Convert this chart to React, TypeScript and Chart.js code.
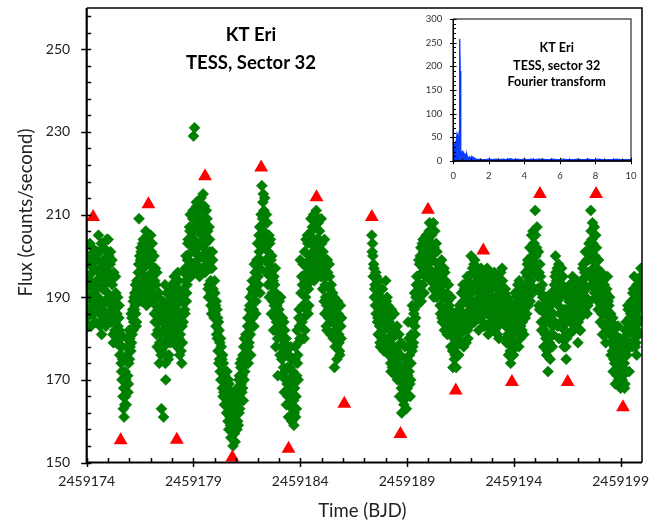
import React, { useEffect, useRef } from 'react';
import { Chart, registerables } from 'chart.js';

Chart.register(...registerables);

// ---------------- data ----------------
const JD0 = 2459000;
const X_MIN = 2459174;
const X_MAX = 2459200;
const Y_MIN = 150;
const Y_MAX = 260;

const xTickValues = [2459174, 2459179, 2459184, 2459189, 2459194, 2459199];
const yTickValues = [150, 170, 190, 210, 230, 250];

// TESS light curve, regular cadence (days); three interleaved phases per orbit
const CADENCE = 0.05;
const PHASES = [0, 0.017, 0.033];
const orbit1Start = 2459174.0;
const fluxOrbit1a = [
  185, 200, 190, 203, 183, 196, 188, 201, 184, 194,
  199, 205, 186, 197, 181, 192, 202, 189, 183, 196,
  204, 190, 198, 184, 193, 179, 187, 195, 182, 190,
  185, 176, 181, 170, 166, 161, 172, 164, 178, 169,
  175, 182, 179, 187, 184, 191, 186, 194, 189, 209,
  196, 201, 191, 204, 195, 199, 188, 203, 193, 198,
  205, 196, 189, 200, 184, 193, 178, 187, 174, 181,
  163, 186, 161, 179, 170, 191, 183, 176, 188, 180,
  192, 184, 195, 179, 188, 182, 194, 176, 186, 174,
  189, 196, 186, 200, 193, 204, 197, 210, 201, 206,
  229, 231, 207, 212, 199, 209, 203, 214, 205, 215,
  208, 196, 211, 200, 190, 204, 194, 186, 199, 189,
  191, 183, 187, 177, 182, 172, 178, 168, 174, 164,
  170, 162, 167, 158, 165, 156, 163, 154, 160, 155,
  162, 168, 159, 171, 165, 175, 168, 178, 172, 181,
  176, 185, 179, 190, 183, 194, 187, 198, 191, 196,
  203, 193, 207, 199, 217, 213, 211, 205, 196, 208,
  201, 190, 204, 186, 197, 182, 193, 178, 188, 171,
  187, 176, 183, 171, 180, 167, 177, 164, 173, 161,
  169, 178, 160, 172, 159, 175, 166, 182, 170, 187,
  199, 180, 193, 185, 201, 190, 196, 203, 188, 205,
  209, 198, 204, 194, 207, 211, 201, 196, 206, 199,
  203, 192, 198, 186, 195, 182, 190, 198, 184, 193,
  187, 180, 173, 184, 178, 189, 181, 176, 183,
];
const fluxOrbit1b = [
  192, 187, 198, 194, 189, 202, 186, 191, 199, 188,
  193, 188, 201, 184, 195, 187, 198, 193, 186, 201,
  196, 186, 201, 189, 185, 196, 182, 191, 186, 183,
  188, 180, 174, 178, 163, 168, 166, 176, 171, 174,
  180, 177, 185, 182, 190, 188, 183, 192, 196, 193,
  199, 193, 203, 197, 190, 206, 201, 195, 200, 191,
  199, 203, 193, 186, 197, 181, 190, 184, 179, 177,
  184, 189, 178, 193, 182, 187, 175, 185, 179, 191,
  186, 190, 181, 191, 185, 196, 180, 189, 177, 183,
  184, 191, 197, 189, 199, 195, 207, 203, 198, 209,
  201, 210, 196, 206, 211, 200, 208, 197, 212, 202,
  212, 203, 198, 206, 193, 201, 188, 197, 192, 185,
  186, 189, 180, 184, 175, 180, 170, 176, 167, 171,
  166, 172, 160, 169, 161, 167, 158, 164, 157, 162,
  165, 160, 170, 163, 173, 167, 176, 170, 180, 175,
  180, 174, 187, 181, 192, 185, 189, 194, 186, 199,
  198, 205, 191, 210, 202, 215, 208, 202, 210, 199,
  198, 203, 193, 200, 189, 195, 185, 191, 182, 186,
  189, 181, 178, 185, 173, 182, 170, 178, 166, 176,
  164, 175, 163, 169, 162, 178, 163, 174, 179, 183,
  185, 195, 188, 198, 182, 204, 193, 186, 199, 195,
  203, 207, 200, 210, 197, 204, 208, 199, 203, 195,
  197, 201, 189, 193, 183, 199, 187, 195, 181, 190,
  191, 185, 182, 188, 175, 186, 179, 185, 180,
];
const fluxOrbit1c = [
  195, 183, 193, 199, 186, 190, 197, 184, 192, 201,
  190, 196, 183, 203, 189, 199, 185, 194, 204, 191,
  200, 194, 188, 199, 181, 190, 184, 179, 188, 185,
  182, 178, 172, 175, 168, 164, 170, 180, 167, 182,
  178, 186, 181, 189, 187, 193, 184, 190, 198, 200,
  202, 189, 197, 192, 202, 194, 198, 192, 205, 189,
  201, 191, 197, 194, 188, 196, 182, 191, 185, 176,
  177, 182, 188, 174, 185, 180, 189, 186, 181, 193,
  183, 193, 187, 190, 178, 192, 184, 181, 190, 179,
  192, 187, 194, 191, 203, 199, 206, 195, 204, 211,
  204, 198, 213, 202, 207, 195, 211, 206, 200, 209,
  205, 199, 209, 192, 207, 197, 191, 201, 187, 194,
  188, 181, 185, 174, 179, 170, 175, 166, 172, 168,
  168, 164, 170, 163, 159, 166, 160, 157, 165, 158,
  158, 166, 162, 174, 169, 171, 165, 180, 174, 178,
  183, 178, 188, 176, 186, 191, 183, 196, 189, 193,
  195, 201, 197, 204, 209, 206, 214, 199, 203, 193,
  205, 195, 199, 191, 194, 188, 197, 184, 180, 190,
  183, 190, 175, 180, 184, 172, 180, 169, 178, 167,
  173, 167, 171, 165, 168, 161, 171, 176, 185, 180,
  191, 184, 198, 180, 194, 187, 205, 192, 200, 197,
  206, 201, 210, 197, 202, 196, 208, 204, 200, 209,
  200, 195, 204, 190, 188, 196, 185, 192, 188, 186,
  184, 190, 178, 180, 186, 183, 177, 188, 185,
];
const orbit2Start = 2459187.35;
const fluxOrbit2a = [
  205, 200, 197,
  193, 186, 190, 181, 187, 178, 184, 192, 182, 189,
  194, 183, 188, 176, 185, 172, 180, 175, 186, 171,
  181, 170, 176, 166, 173, 162, 168, 164, 178, 170,
  175, 184, 172, 166, 181, 188, 179, 191, 185, 195,
  190, 199, 193, 202, 196, 204, 191, 200, 205, 197,
  203, 208, 194, 205, 199, 190, 206, 196, 201, 192,
  198, 188, 195, 184, 191, 182, 194, 186, 189, 183,
  187, 178, 184, 173, 181, 176, 173, 185, 179, 188,
  182, 191, 186, 178, 193, 184, 189, 180, 195, 187,
  200, 189, 196, 184, 192, 187, 197, 182, 190, 194,
  188, 195, 183, 191, 186, 197, 181, 189, 184, 192,
  187, 193, 182, 190, 185, 195, 180, 188, 191, 197,
  189, 184, 192, 179, 186, 176, 183, 174, 188, 181,
  185, 191, 178, 187, 182, 194, 180, 189, 184, 192,
  188, 196, 186, 199, 191, 202, 194, 200, 206, 203,
  211, 198, 192, 201, 187, 195, 182, 190, 178, 186,
  180, 189, 172, 184, 175, 191, 178, 186, 193, 200,
  194, 183, 198, 186, 190, 180, 195, 178, 187, 175,
  184, 192, 181, 189, 186, 195, 182, 190, 188, 194,
  179, 188, 185, 194, 190, 198, 187, 201, 192, 196,
  199, 189, 211, 204, 203, 195, 200, 190, 197, 187,
  193, 184, 196, 181, 190, 186, 179, 192, 183, 188,
  185, 176, 182, 172, 178, 169, 180, 174, 170, 177,
  168, 175, 171, 180, 169, 184, 176, 187, 172, 182,
  189, 178, 192, 183, 186, 176, 190, 181, 194, 197,
];
const fluxOrbit2b = [
  201, 195, 190,
  188, 195, 184, 192, 183, 190, 180, 187, 177, 185,
  186, 190, 180, 184, 178, 187, 173, 182, 177, 181,
  177, 174, 181, 170, 179, 166, 172, 169, 175, 163,
  168, 178, 176, 170, 184, 178, 186, 183, 190, 188,
  195, 192, 200, 189, 203, 197, 200, 196, 202, 199,
  197, 201, 206, 199, 192, 202, 196, 203, 193, 198,
  193, 186, 199, 190, 187, 196, 184, 191, 185, 188,
  184, 190, 181, 186, 175, 183, 179, 182, 176, 184,
  188, 184, 193, 182, 189, 179, 195, 186, 183, 191,
  193, 197, 186, 199, 189, 194, 185, 191, 188, 197,
  191, 186, 194, 188, 192, 183, 193, 186, 195, 188,
  190, 185, 195, 187, 192, 183, 189, 193, 184, 194,
  186, 191, 183, 188, 181, 189, 179, 185, 178, 186,
  188, 182, 190, 184, 191, 186, 183, 192, 187, 181,
  192, 190, 195, 193, 197, 189, 199, 197, 203, 200,
  205, 202, 196, 188, 198, 191, 187, 184, 188, 181,
  184, 177, 186, 179, 188, 181, 183, 190, 184, 196,
  189, 196, 180, 192, 184, 193, 186, 182, 191, 180,
  190, 186, 193, 184, 191, 188, 192, 185, 193, 189,
  184, 191, 182, 189, 194, 186, 196, 190, 199, 188,
  203, 195, 206, 199, 197, 207, 192, 202, 193, 199,
  189, 192, 186, 194, 183, 188, 191, 184, 189, 182,
  181, 184, 177, 180, 174, 183, 172, 178, 175, 172,
  173, 170, 177, 174, 182, 179, 181, 184, 178, 186,
  185, 191, 181, 189, 179, 193, 185, 188, 191, 193,
];
const fluxOrbit2c = [
  203, 198, 192,
  196, 190, 185, 194, 179, 188, 182, 189, 186, 180,
  189, 179, 185, 182, 174, 183, 186, 178, 173, 176,
  183, 178, 172, 176, 168, 172, 165, 173, 167, 166,
  171, 180, 169, 174, 177, 184, 187, 181, 193, 190,
  193, 198, 191, 199, 193, 201, 195, 203, 198, 204,
  206, 199, 203, 196, 208, 195, 201, 190, 198, 194,
  196, 191, 185, 193, 197, 187, 190, 181, 193, 186,
  182, 186, 177, 180, 184, 178, 183, 176, 187, 181,
  185, 179, 189, 192, 186, 190, 182, 193, 188, 184,
  191, 185, 198, 192, 186, 195, 189, 193, 196, 187,
  184, 192, 189, 196, 183, 190, 187, 194, 189, 185,
  184, 196, 188, 193, 181, 190, 186, 196, 187, 192,
  192, 187, 180, 190, 184, 187, 177, 182, 184, 176,
  179, 186, 184, 193, 178, 189, 187, 182, 190, 186,
  185, 193, 198, 188, 196, 193, 205, 191, 201, 196,
  200, 207, 195, 196, 192, 184, 193, 187, 182, 190,
  176, 185, 180, 188, 178, 186, 181, 189, 195, 192,
  197, 188, 191, 183, 197, 187, 184, 191, 178, 184,
  187, 189, 185, 193, 182, 190, 186, 194, 184, 191,
  186, 182, 192, 187, 197, 193, 190, 195, 186, 201,
  196, 201, 193, 208, 199, 191, 205, 195, 189, 194,
  196, 188, 191, 186, 193, 181, 187, 195, 186, 190,
  186, 179, 185, 175, 181, 176, 171, 183, 176, 180,
  170, 178, 174, 168, 177, 172, 188, 182, 185, 179,
  183, 187, 195, 178, 190, 182, 187, 184, 195, 190,
];

// maxima / minima markers (red triangles)
const extremaTime = [
  174.30, 175.59, 176.89, 178.22, 179.54, 180.82, 182.17, 183.45, 184.76, 186.06,
  187.35, 188.69, 189.98, 191.28, 192.57, 193.91, 195.22, 196.52, 197.85, 199.11,
];
const extremaFlux = [
  209.4, 155.4, 212.5, 155.5, 219.3, 151.2, 221.4, 153.3, 214.2, 164.2,
  209.4, 156.9, 211.2, 167.4, 201.3, 169.5, 215.0, 169.5, 215.0, 163.4,
];

// inset: Fourier transform
const insetXTicks = [0, 2, 4, 6, 8, 10];
const insetYTicks = [0, 50, 100, 150, 200, 250, 300];
const fftFreq = [
  0, 0.03, 0.06, 0.09, 0.12, 0.15, 0.18, 0.21, 0.24, 0.27,
  0.30, 0.33, 0.35, 0.37, 0.39, 0.41, 0.43, 0.46, 0.49, 0.52,
  0.55, 0.58, 0.61, 0.64, 0.67, 0.70, 0.73, 0.76, 0.80, 0.85,
  0.90, 0.95, 1.00, 1.05, 1.10, 1.15, 1.20, 1.30, 1.40, 1.50,
  1.6, 1.8, 2.0, 2.2, 2.4, 2.6, 2.8, 3.0, 3.2, 3.4,
  3.6, 3.8, 4.0, 4.2, 4.4, 4.6, 4.8, 5.0, 5.2, 5.4,
  5.6, 5.8, 6.0, 6.2, 6.4, 6.6, 6.8, 7.0, 7.2, 7.4,
  7.6, 7.8, 8.0, 8.2, 8.4, 8.6, 8.8, 9.0, 9.2, 9.4,
  9.6, 9.8, 10.0,
];
const fftAmp = [
  0, 22, 33, 28, 36, 30, 46, 58, 55, 40,
  32, 62, 160, 258, 190, 55, 22, 12, 18, 22,
  15, 20, 12, 9, 14, 16, 10, 14, 8, 6,
  9, 5, 8, 9, 6, 8, 5, 4, 3, 4,
  3, 3, 4, 3, 4, 3, 4, 3, 5, 3,
  4, 3, 4, 3, 4, 3, 4, 4, 3, 3,
  4, 3, 3, 4, 3, 3, 3, 4, 3, 3,
  4, 3, 3, 4, 3, 3, 3, 3, 4, 3,
  3, 3, 3,
];

const mainTitle = ['KT Eri', 'TESS, Sector 32'];
const insetTitle = ['KT Eri', 'TESS, sector 32', 'Fourier transform'];
const xAxisTitle = 'Time (BJD)';
const yAxisTitle = 'Flux (counts/second)';

// ---------------- helpers ----------------
const FONT = 'Lato, "Open Sans", sans-serif';

function lightCurvePoints() {
  const pts: { x: number; y: number }[] = [];
  const orbits: [number, number[][]][] = [
    [orbit1Start, [fluxOrbit1a, fluxOrbit1b, fluxOrbit1c]],
    [orbit2Start, [fluxOrbit2a, fluxOrbit2b, fluxOrbit2c]],
  ];
  orbits.forEach(([start, phases]) => {
    phases.forEach((arr, p) => {
      arr.forEach((f, i) => pts.push({ x: start + PHASES[p] + i * CADENCE, y: f }));
    });
  });
  return pts;
}

const mainDecor = {
  id: 'mainDecor',
  afterDraw(chart: any) {
    const { ctx, chartArea: a, scales } = chart;
    const xs = scales.x;
    const ys = scales.y;
    ctx.save();
    ctx.strokeStyle = '#000';
    ctx.lineWidth = 1.5;
    ctx.beginPath();
    ctx.moveTo(a.left, a.top);
    ctx.lineTo(a.right, a.top);
    ctx.lineTo(a.right, a.bottom);
    ctx.stroke();
    ctx.lineWidth = 2.2;
    ctx.beginPath();
    ctx.moveTo(a.left, a.top);
    ctx.lineTo(a.left, a.bottom);
    ctx.lineTo(a.right, a.bottom);
    ctx.stroke();

    ctx.lineWidth = 1.5;
    for (let d = X_MIN; d < X_MAX; d++) {
      const px = Math.round(xs.getPixelForValue(d)) + 0.5;
      const major = xTickValues.includes(d);
      ctx.beginPath();
      ctx.moveTo(px, a.bottom - 4.5);
      ctx.lineTo(px, major ? a.bottom + 4.5 : a.bottom);
      ctx.stroke();
    }
    for (let v = Y_MIN; v < Y_MAX; v += 4) {
      const py = Math.round(ys.getPixelForValue(v)) + 0.5;
      const major = yTickValues.includes(v);
      ctx.beginPath();
      ctx.moveTo(major ? a.left - 5.5 : a.left, py);
      ctx.lineTo(a.left + 4.5, py);
      ctx.stroke();
    }

    ctx.fillStyle = '#000';
    ctx.textAlign = 'center';
    ctx.textBaseline = 'alphabetic';
    ctx.font = `bold 18.5px ${FONT}`;
    ctx.fillText(mainTitle[0], 251, 41);
    ctx.fillText(mainTitle[1], 251, 68.5);

    ctx.fillStyle = '#222';
    ctx.font = `18.5px ${FONT}`;
    ctx.fillText(xAxisTitle, (a.left + a.right) / 2 - 2, 516.5);

    ctx.translate(32, 212.5);
    ctx.rotate(-Math.PI / 2);
    ctx.fillText(yAxisTitle, 0, 0);
    ctx.restore();
  },
};

const insetDecor = {
  id: 'insetDecor',
  afterDraw(chart: any) {
    const { ctx, chartArea: a, scales } = chart;
    const xs = scales.x;
    const ys = scales.y;
    ctx.save();
    ctx.strokeStyle = '#000';
    ctx.lineWidth = 1;
    ctx.strokeRect(a.left, a.top, a.right - a.left, a.bottom - a.top);
    ctx.lineWidth = 1.4;
    ctx.beginPath();
    ctx.moveTo(a.left, a.top);
    ctx.lineTo(a.left, a.bottom);
    ctx.lineTo(a.right, a.bottom);
    ctx.stroke();
    ctx.lineWidth = 1;
    for (let v = 0; v <= 300; v += 10) {
      const py = Math.round(ys.getPixelForValue(v)) + 0.5;
      const major = insetYTicks.includes(v);
      ctx.beginPath();
      ctx.moveTo(major ? a.left - 3.3 : a.left, py);
      ctx.lineTo(a.left + (major ? 3.3 : 2.7), py);
      ctx.stroke();
    }
    for (let k = 0; k <= 20; k++) {
      const v = k * 0.5;
      const px = Math.round(xs.getPixelForValue(v)) + 0.5;
      const major = insetXTicks.includes(v);
      ctx.beginPath();
      ctx.moveTo(px, a.bottom - (major ? 3.3 : 2.5));
      ctx.lineTo(px, major ? a.bottom + 3.3 : a.bottom);
      ctx.stroke();
    }
    ctx.fillStyle = '#000';
    ctx.textAlign = 'center';
    ctx.textBaseline = 'alphabetic';
    ctx.font = `bold 12.6px ${FONT}`;
    const cx = 156.7;
    ctx.fillText(insetTitle[0], cx, 52.3);
    ctx.fillText(insetTitle[1], cx, 69.5);
    ctx.fillText(insetTitle[2], cx, 86);
    ctx.restore();
  },
};

export default function App() {
  const mainRef = useRef<HTMLCanvasElement | null>(null);
  const insetRef = useRef<HTMLCanvasElement | null>(null);

  useEffect(() => {
    if (!mainRef.current || !insetRef.current) return;
    Chart.defaults.font.family = FONT;

    const main = new Chart(mainRef.current, {
      type: 'scatter',
      data: {
        datasets: [
          {
            label: 'Extrema',
            data: extremaTime.map((t, i) => ({ x: JD0 + t, y: extremaFlux[i] })),
            pointStyle: 'triangle',
            pointRadius: 8,
            backgroundColor: '#ff0000',
            borderColor: '#ff0000',
            borderWidth: 0,
          },
          {
            label: 'Flux',
            data: lightCurvePoints(),
            pointStyle: 'rectRot',
            pointRadius: 5.5,
            backgroundColor: '#008000',
            borderColor: '#007800',
            borderWidth: 0.6,
          },
        ],
      },
      options: {
        responsive: false,
        animation: false,
        devicePixelRatio: 1,
        events: [],
        layout: { padding: { left: 0, top: 7.5, right: 26, bottom: 0 } },
        plugins: { legend: { display: false }, tooltip: { enabled: false } },
        scales: {
          x: {
            type: 'linear',
            min: X_MIN,
            max: X_MAX,
            grid: { display: false, drawTicks: false },
            border: { display: false },
            ticks: {
              color: '#222',
              font: { size: 14 },
              padding: 11,
              maxRotation: 0,
              autoSkip: false,
              callback: (v: any) => String(v),
            },
            afterBuildTicks: (s: any) => {
              s.ticks = xTickValues.map((v) => ({ value: v }));
            },
            afterFit: (s: any) => {
              s.height = 59.5;
              s.paddingLeft = 0;
              s.paddingRight = 0;
            },
          },
          y: {
            type: 'linear',
            min: Y_MIN,
            max: Y_MAX,
            grid: { display: false, drawTicks: false },
            border: { display: false },
            ticks: {
              color: '#222',
              font: { size: 14 },
              padding: 16.5,
              autoSkip: false,
            },
            afterBuildTicks: (s: any) => {
              s.ticks = yTickValues.map((v) => ({ value: v }));
            },
            afterFit: (s: any) => {
              s.width = 86.7;
              s.paddingTop = 0;
              s.paddingBottom = 0;
            },
          },
        },
      },
      plugins: [mainDecor],
    } as any);

    const inset = new Chart(insetRef.current, {
      type: 'line',
      data: {
        datasets: [
          {
            label: 'FT',
            data: fftFreq.map((f, i) => ({ x: f, y: fftAmp[i] })),
            borderColor: '#0a3cff',
            backgroundColor: '#0a3cff',
            borderWidth: 1.3,
            pointRadius: 0,
            tension: 0,
            fill: 'origin',
          },
        ],
      },
      options: {
        responsive: false,
        animation: false,
        devicePixelRatio: 1,
        events: [],
        layout: { padding: { left: 0, top: 19, right: 29, bottom: 0 } },
        plugins: { legend: { display: false }, tooltip: { enabled: false } },
        scales: {
          x: {
            type: 'linear',
            min: 0,
            max: 10,
            grid: { display: false, drawTicks: false },
            border: { display: false },
            ticks: { color: '#333', font: { size: 9.5 }, padding: 9, maxRotation: 0, autoSkip: false },
            afterBuildTicks: (s: any) => {
              s.ticks = insetXTicks.map((v) => ({ value: v }));
            },
            afterFit: (s: any) => {
              s.height = 39;
              s.paddingLeft = 0;
              s.paddingRight = 0;
            },
          },
          y: {
            type: 'linear',
            min: 0,
            max: 300,
            grid: { display: false, drawTicks: false },
            border: { display: false },
            ticks: { color: '#333', font: { size: 9.5 }, padding: 11, autoSkip: false },
            afterBuildTicks: (s: any) => {
              s.ticks = insetYTicks.map((v) => ({ value: v }));
            },
            afterFit: (s: any) => {
              s.width = 53.3;
              s.paddingTop = 0;
              s.paddingBottom = 0;
            },
          },
        },
      },
      plugins: [insetDecor],
    } as any);

    return () => {
      main.destroy();
      inset.destroy();
    };
  }, []);

  return (
    <div style={{ position: 'fixed', left: 0, top: 0, width: 668, height: 522, background: '#fff' }}>
      <canvas ref={mainRef} width={668} height={522} style={{ position: 'absolute', left: 0, top: 0 }} />
      <canvas ref={insetRef} width={260} height={200} style={{ position: 'absolute', left: 400, top: 0 }} />
    </div>
  );
}
